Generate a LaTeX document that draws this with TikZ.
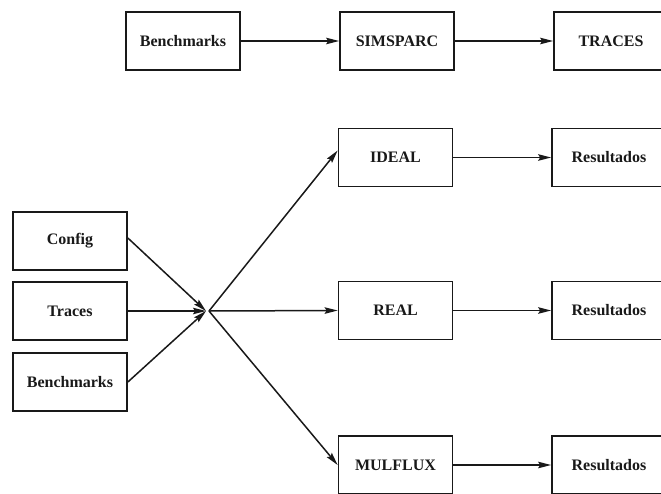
\documentclass[tikz,border=0pt]{standalone}
\usepackage{fontspec}
\setmainfont{Liberation Serif}
\usetikzlibrary{arrows.meta}
\begin{document}
\begin{tikzpicture}[x=1pt,y=-1pt,
  blockbox/.style={draw=black!90, line width=1.7pt, minimum width=114pt, minimum height=58pt,
    inner sep=0pt, font=\fontsize{16}{18}\selectfont\bfseries, text=black!90},
  flow/.style={draw=black!90, line width=1.5pt, -{Stealth[length=13pt,width=6.5pt,inset=2pt]}}]
  \useasboundingbox (0,0) rectangle (661,493);
  \clip (0,0) rectangle (661,493);

  % simulation chain
  \node[blockbox] (bench1) at (183,41) {Benchmarks};
  \node[blockbox] (simsparc) at (397,41) {SIMSPARC};
  \node[blockbox] (traces) at (611,41) {TRACES};

  % inputs
  \node[blockbox] (config) at (70,241) {Config};
  \node[blockbox] (tracesin) at (70,311) {Traces};
  \node[blockbox] (benchin) at (70,382) {Benchmarks};

  % simulators
  \node[blockbox] (ideal) at (395.5,157.5) {IDEAL};
  \node[blockbox] (real) at (395.5,310.5) {REAL};
  \node[blockbox] (mulflux) at (395.5,465) {MULFLUX};

  % results
  \node[blockbox] (res1) at (609,157.5) {Resultados};
  \node[blockbox] (res2) at (609,310.5) {Resultados};
  \node[blockbox] (res3) at (609,465) {Resultados};

  % merge point
  \coordinate (jin) at (206,311);
  \coordinate (jout) at (209,311);

  \draw[flow] (bench1) -- (simsparc);
  \draw[flow] (simsparc) -- (traces);

  \draw[flow] ([yshift=3pt]config.east) -- (jin);
  \draw[flow] (tracesin.east) -- (jin);
  \draw[flow] (benchin.east) -- (jin);

  \draw[flow] (jout) -- ([yshift=7pt]ideal.west);
  \draw[flow] (jout) -- (real.west);
  \draw[flow] (jout) -- (mulflux.west);

  \draw[flow] (ideal) -- (res1);
  \draw[flow] (real) -- (res2);
  \draw[flow] (mulflux) -- (res3);
\end{tikzpicture}
\end{document}
